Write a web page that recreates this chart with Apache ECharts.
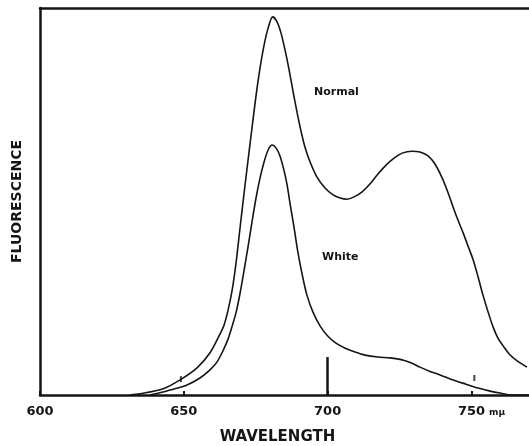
<!DOCTYPE html>
<html>
<head>
<meta charset="utf-8">
<script src="https://cdn.jsdelivr.net/npm/echarts@6/dist/echarts.min.js"></script>
<style>
html,body{margin:0;padding:0;background:#fff;}
#chart{width:529px;height:446px;}
</style>
</head>
<body>
<div id="chart"></div>
<script>
// Wavelength (mμ) and fluorescence (relative units)
var normalWavelength = [631.3, 634.8, 642.8, 648.7, 654.6, 659.1, 662.6, 664.0, 665.4, 666.8, 668.2, 669.5, 670.9, 672.3, 673.7, 675.1, 676.5, 677.9, 679.3, 680.9, 682.4, 683.8, 685.2, 686.6, 688.0, 689.4, 690.8, 692.1, 693.9, 696.3, 699.1, 701.9, 704.3, 706.7, 709.2, 712.0, 714.7, 717.5, 720.3, 723.1, 725.9, 729.3, 732.1, 734.9, 737.3, 739.8, 741.9, 743.6, 745.3, 747.1, 748.8, 750.6, 752.3, 754.0, 755.8, 757.5, 759.2, 761.0, 763.1, 765.9, 769.3];
var normalFluorescence = [0, 0.3, 1.6, 3.9, 7.0, 10.9, 15.8, 18.1, 22.0, 27.1, 34.4, 42.9, 51.9, 60.5, 69.0, 77.3, 84.5, 90.4, 94.8, 97.7, 96.4, 93.5, 89.1, 84.0, 78.3, 72.9, 68.0, 64.1, 60.2, 56.3, 53.5, 51.7, 50.9, 50.6, 51.2, 52.5, 54.5, 57.1, 59.4, 61.2, 62.5, 63.0, 62.8, 61.8, 59.7, 56.1, 52.2, 48.6, 45.2, 41.9, 38.5, 34.9, 30.5, 25.8, 21.4, 17.6, 14.7, 12.7, 10.6, 8.8, 7.2];

var whiteWavelength = [638.2, 642.8, 646.9, 651.1, 655.6, 659.1, 661.5, 663.6, 665.4, 666.8, 668.2, 669.5, 670.9, 672.3, 673.7, 675.1, 676.5, 677.9, 679.3, 680.7, 682.1, 683.4, 684.8, 685.9, 686.9, 688.3, 689.7, 691.1, 692.8, 694.9, 697.4, 700.1, 702.9, 706.1, 709.5, 713.0, 717.5, 721.7, 725.2, 728.7, 732.1, 735.6, 739.1, 743.6, 748.1, 752.3, 756.5, 759.9, 764.1, 770.0];
var whiteFluorescence = [0, 0.8, 1.6, 2.6, 4.4, 6.5, 8.5, 11.4, 14.5, 17.8, 21.4, 26.1, 32.0, 38.2, 44.7, 50.9, 56.1, 60.2, 63.3, 64.6, 63.8, 61.8, 58.1, 54.3, 49.6, 43.4, 36.7, 31.3, 25.8, 21.4, 17.8, 15.2, 13.4, 12.1, 11.1, 10.3, 9.8, 9.6, 9.2, 8.4, 7.2, 6.1, 5.2, 3.9, 2.8, 1.8, 1.0, 0.5, 0, 0];

var markWavelength = [649, 751];
var markHeight = [4.1, 4.4];

var xTicks = [600, 650, 700, 750];
var referenceLine = [700, 9.8];

function pairs(xs, ys) { return xs.map(function (x, i) { return [x, ys[i]]; }); }

var chart = echarts.init(document.getElementById('chart'), null, {renderer: 'canvas'});
var ink = '#151515';
var option = {
  backgroundColor: '#ffffff',
  animation: false,
  grid: {left: 40, right: 0, top: 8, bottom: 51, containLabel: false, outerBoundsMode: 'none'},
  xAxis: [{
    type: 'value', min: 600, max: 770, interval: 50,
    axisLine: {show: true, lineStyle: {color: ink, width: 2.5}},
    axisTick: {show: true, inside: true, length: 4, lineStyle: {color: ink, width: 2}},
    splitLine: {show: false},
    axisLabel: {show: true, margin: 10, color: ink, fontSize: 13, fontWeight: 'bold', fontFamily: 'DejaVu Sans',
      showMaxLabel: false,
      formatter: function (v) { return xTicks.indexOf(v) >= 0 ? String(v) : ''; }},
    name: 'WAVELENGTH', nameLocation: 'middle', nameGap: 35,
    nameTextStyle: {color: ink, fontSize: 15, fontWeight: 'bold', fontFamily: 'DejaVu Sans', padding: [0, 14, 0, 0]}
  }, {
    type: 'value', min: 600, max: 770, position: 'top',
    axisLine: {show: true, onZero: false, lineStyle: {color: ink, width: 2.5}},
    axisTick: {show: false}, axisLabel: {show: false}, splitLine: {show: false}
  }],
  yAxis: {
    type: 'value', min: 0, max: 100,
    axisLine: {show: true, lineStyle: {color: ink, width: 2.5}},
    axisTick: {show: false}, axisLabel: {show: false}, splitLine: {show: false},
    name: 'FLUORESCENCE', nameLocation: 'middle', nameGap: 16, nameRotate: 90,
    nameTextStyle: {color: ink, fontSize: 14, fontWeight: 'bold', fontFamily: 'DejaVu Sans'}
  },
  series: [{
    name: 'Normal', type: 'line', smooth: 0.3, showSymbol: false, symbol: 'none',
    data: pairs(normalWavelength, normalFluorescence),
    lineStyle: {color: ink, width: 1.6},
    markLine: {
      silent: true, symbol: ['none', 'none'], label: {show: false},
      lineStyle: {color: ink, width: 2.5, type: 'solid'},
      data: [[{coord: [referenceLine[0], 0]}, {coord: [referenceLine[0], referenceLine[1]]}]]
    }
  }, {
    name: 'White', type: 'line', smooth: 0.3, showSymbol: false, symbol: 'none',
    data: pairs(whiteWavelength, whiteFluorescence),
    lineStyle: {color: ink, width: 1.6}
  }, {
    name: 'marks', type: 'scatter', symbol: 'rect', symbolSize: [2, 6],
    data: pairs(markWavelength, markHeight),
    itemStyle: {color: ink}
  }],
  graphic: [
    {type: 'text', left: 314, top: 87, style: {text: 'Normal', fill: ink, font: 'bold 11px "DejaVu Sans"'}},
    {type: 'text', left: 322, top: 252, style: {text: 'White', fill: ink, font: 'bold 11px "DejaVu Sans"'}},
    {type: 'text', left: 489, top: 408, style: {text: 'mμ', fill: ink, font: 'bold 9px "DejaVu Sans"'}}
  ]
};
chart.setOption(option);
</script>
</body>
</html>
